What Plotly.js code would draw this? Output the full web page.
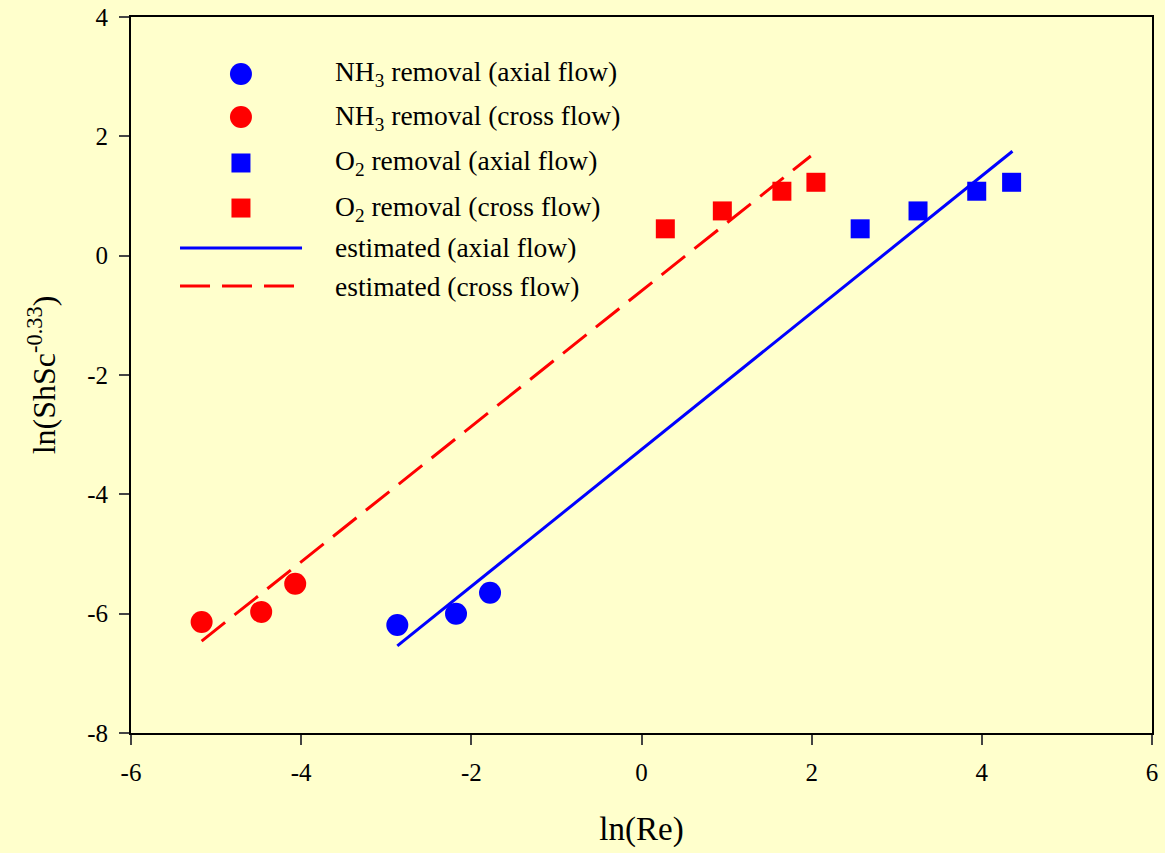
<!DOCTYPE html>
<html>
<head>
<meta charset="utf-8">
<script src="https://cdn.plot.ly/plotly-3.0.1.min.js"></script>
<style>html,body{margin:0;padding:0;background:#FFFFCC;}#chart{width:1165px;height:853px;}</style>
</head>
<body>
<div id="chart"></div>
<script>
// ---- data ----
const nh3AxialX = [-2.87, -2.18, -1.78];
const nh3AxialY = [-6.19, -6.00, -5.65];
const nh3CrossX = [-5.17, -4.47, -4.07];
const nh3CrossY = [-6.14, -5.97, -5.50];
const o2AxialX = [2.57, 3.25, 3.94, 4.35];
const o2AxialY = [0.45, 0.75, 1.08, 1.23];
const o2CrossX = [0.28, 0.95, 1.65, 2.05];
const o2CrossY = [0.45, 0.75, 1.08, 1.23];
const estAxialX = [-2.87, 4.36];
const estAxialY = [-6.54, 1.75];
const estCrossX = [-5.17, 1.99];
const estCrossY = [-6.46, 1.67];
const legendLabels = [
  'NH<sub>3</sub> removal (axial flow)',
  'NH<sub>3</sub> removal (cross flow)',
  'O<sub>2</sub> removal (axial flow)',
  'O<sub>2</sub> removal (cross flow)',
  'estimated (axial flow)',
  'estimated (cross flow)'
];
const xTicks = [-6, -4, -2, 0, 2, 4, 6];
const xTickText = ['-6', '-4', '-2', '0', '2', '4', '6'];
const yTicks = [-8, -6, -4, -2, 0, 2, 4];
const yTickText = ['-8', '-6', '-4', '-2', '0', '2', '4'];

const BLUE = 'rgb(0,0,255)', RED = 'rgb(255,0,0)';
const FONT = '"Liberation Serif", "Times New Roman", serif';
const DASH = '30px,12px';

const traces = [
  {x: estAxialX, y: estAxialY, mode: 'lines', line: {color: BLUE, width: 3}},
  {x: estCrossX, y: estCrossY, mode: 'lines', line: {color: RED, width: 3, dash: DASH}},
  {x: nh3AxialX, y: nh3AxialY, mode: 'markers', marker: {symbol: 'circle', size: 22, color: BLUE}},
  {x: nh3CrossX, y: nh3CrossY, mode: 'markers', marker: {symbol: 'circle', size: 22, color: RED}},
  {x: o2AxialX, y: o2AxialY, mode: 'markers', marker: {symbol: 'square', size: 19, color: BLUE}},
  {x: o2CrossX, y: o2CrossY, mode: 'markers', marker: {symbol: 'square', size: 19, color: RED}}
];

// custom legend drawn on an overlay axis (0..1 of the plot area)
const rowY = [0.9204, 0.8603, 0.7961, 0.7332, 0.6774, 0.6243];
const symX = 0.1077, lineX0 = 0.048, lineX1 = 0.1675, textX = 0.1978;
const legStyles = [
  {m: 'circle', s: 22, c: BLUE}, {m: 'circle', s: 22, c: RED},
  {m: 'square', s: 19, c: BLUE}, {m: 'square', s: 19, c: RED}
];
legStyles.forEach((st, i) => traces.push({
  x: [symX], y: [rowY[i]], xaxis: 'x2', yaxis: 'y2', mode: 'markers',
  marker: {symbol: st.m, size: st.s, color: st.c}
}));
traces.push({x: [lineX0, lineX1], y: [rowY[4], rowY[4]], xaxis: 'x2', yaxis: 'y2', mode: 'lines', line: {color: BLUE, width: 3}});
traces.push({x: [lineX0, lineX1], y: [rowY[5], rowY[5]], xaxis: 'x2', yaxis: 'y2', mode: 'lines', line: {color: RED, width: 3, dash: DASH}});

const annotations = legendLabels.map((t, i) => ({
  x: textX, y: rowY[i], xref: 'x2', yref: 'y2', text: t, showarrow: false,
  xanchor: 'left', yanchor: 'middle', font: {family: FONT, size: 27.5, color: '#000'}
}));

const layout = {
  width: 1165, height: 853,
  paper_bgcolor: '#FFFFCC', plot_bgcolor: '#FFFFCC',
  margin: {l: 131, r: 13, t: 17, b: 120},
  showlegend: false,
  font: {family: FONT, size: 25, color: '#000'},
  xaxis: {
    range: [-6, 6], tickvals: xTicks, ticktext: xTickText, ticks: 'outside', ticklen: 10, tickwidth: 2,
    ticklabelstandoff: 6,
    showline: true, linewidth: 2, linecolor: '#000', mirror: true, showgrid: false, zeroline: false,
    tickfont: {family: FONT, size: 25}, title: {text: 'ln(Re)', font: {family: FONT, size: 33}, standoff: 32}
  },
  yaxis: {
    range: [-8, 4], tickvals: yTicks, ticktext: yTickText, ticks: 'outside', ticklen: 10, tickwidth: 2,
    ticklabelstandoff: 6,
    showline: true, linewidth: 2, linecolor: '#000', mirror: true, showgrid: false, zeroline: false,
    tickfont: {family: FONT, size: 25}, title: {text: 'ln(ShSc<sup>-0.33</sup>)', font: {family: FONT, size: 32}, standoff: 22}
  },
  xaxis2: {range: [0, 1], overlaying: 'x', visible: false, fixedrange: true},
  yaxis2: {range: [0, 1], overlaying: 'y', visible: false, fixedrange: true},
  annotations: annotations
};

Plotly.newPlot('chart', traces, layout, {displayModeBar: false, staticPlot: true});
</script>
</body>
</html>
